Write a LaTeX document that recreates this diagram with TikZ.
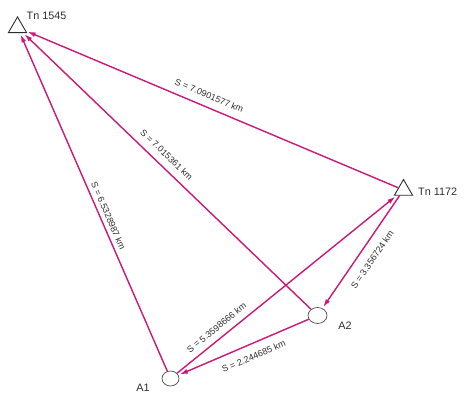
\documentclass[tikz,border=0pt]{standalone}
\usepackage{fontspec}
\setmainfont{Liberation Sans}
\usetikzlibrary{arrows.meta,shapes.geometric}
\definecolor{magline}{RGB}{200,24,122}
\definecolor{ink}{RGB}{45,45,45}
\begin{document}
\begin{tikzpicture}[x=1pt,y=-1pt,
  station/.style={regular polygon, regular polygon sides=3, draw=ink, line width=0.9pt, fill=white, minimum size=21pt, inner sep=0pt},
  point/.style={ellipse, draw=ink!85, line width=0.7pt, fill=white, minimum width=17pt, minimum height=15pt, inner sep=0pt},
  tagtext/.style={text=ink, font=\fontsize{10.8}{12}\selectfont, inner sep=0pt},
  link/.style={draw=magline, line width=1.4pt, -{Latex[length=8pt,width=5pt]}, shorten >=1.5pt},
  dist/.style={text=ink, font=\fontsize{9}{10}\selectfont, sloped, inner sep=1pt}]
\useasboundingbox (0,0) rectangle (466,395);
\node[station] (tn1545) at (17.5,27.4) {};
\node[station] (tn1172) at (403.5,190) {};
\node[point] (a1) at (170.5,378.5) {};
\node[point, minimum width=19pt, minimum height=16pt] (a2) at (317.5,315.5) {};
\node[tagtext, anchor=west] (n1545) at (26.5,15.5) {Tn 1545};
\node[tagtext, anchor=west] (n1172) at (418,191.5) {Tn 1172};
\node[tagtext] (na1) at (143,387.5) {A1};
\node[tagtext] (na2) at (345,325.5) {A2};
\draw[link] (tn1172) -- node[dist, pos=0.52, above=6.5pt] (s1) {S = 7.0901577 km} (tn1545);
\draw[link] (a2) -- node[dist, pos=0.53, above=6.5pt] (s2) {S = 7.015361 km} (tn1545);
\draw[link] (a1) -- node[dist, pos=0.45, above=3pt] (s3) {S = 6.5328987 km} (tn1545);
\draw[link] (a1) -- node[dist, pos=0.21, above=5.5pt] (s4) {S = 5.3598666 km} (tn1172);
\draw[link] (tn1172) -- node[dist, pos=0.50, below=8.5pt] (s5) {S = 3.356724 km} (a2);
\draw[link] (a2) -- node[dist, pos=0.46, below=7.5pt] (s6) {S = 2.244685 km} (a1);
\end{tikzpicture}
\end{document}
